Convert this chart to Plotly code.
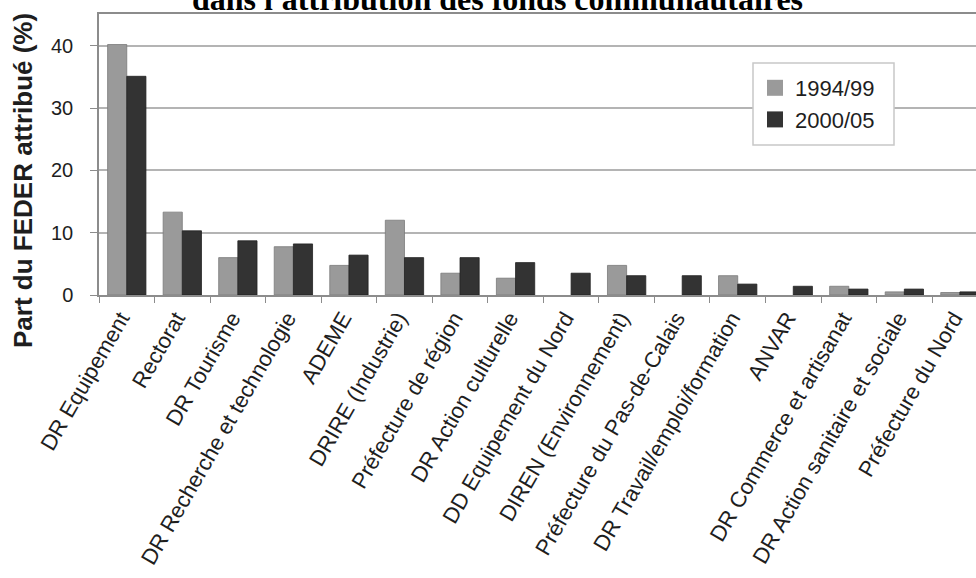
import plotly.graph_objects as go

categories = [
    "DR Equipement", "Rectorat", "DR Tourisme", "DR Recherche et technologie",
    "ADEME", "DRIRE (Industrie)", "Préfecture de région", "DR Action culturelle",
    "DD Equipement du Nord", "DIREN (Environnement)", "Préfecture du Pas-de-Calais",
    "DR Travail/emploi/formation", "ANVAR", "DR Commerce et artisanat",
    "DR Action sanitaire et sociale", "Préfecture du Nord",
]
series_names = ["1994/99", "2000/05"]
values_1994_99 = [40.2, 13.3, 6.0, 7.75, 4.75, 12.0, 3.5, 2.7, None, 4.75, None, 3.1, None, 1.4, 0.5, 0.4]
values_2000_05 = [35.1, 10.3, 8.7, 8.2, 6.4, 6.0, 6.0, 5.2, 3.5, 3.1, 3.1, 1.75, 1.4, 0.95, 0.95, 0.5]
y_ticks = [0, 10, 20, 30, 40]
title_text = "dans l'attribution des fonds communautaires"
y_title = "Part du FEDER attribué (%)"

colors = ["#9a9a9a", "#333333"]
edge = ["#7a7a7a", "#222222"]

fig = go.Figure()
for name, vals, c, e in zip(series_names, [values_1994_99, values_2000_05], colors, edge):
    fig.add_trace(go.Bar(x=categories, y=vals, name=name, marker=dict(color=c, line=dict(color=e, width=0.8)),
                         showlegend=False))
# legend entries
for name, c in zip(series_names, colors):
    fig.add_trace(go.Scatter(x=[None], y=[None], mode="markers", name=name,
                             marker=dict(symbol="square", size=17, color=c)))

W, H = 976, 578
L, R, T, B = 99, 0, 14, 283
pw = W - L - R
ph = H - T - B


def px(xp):
    return (xp - L) / pw


def py(yp):
    return (T + ph - yp) / ph


fig.update_layout(
    width=W, height=H,
    margin=dict(l=L, r=R, t=T, b=B, pad=0),
    paper_bgcolor="white", plot_bgcolor="white",
    barmode="group", bargap=0.31, bargroupgap=0,
    font=dict(family="Liberation Sans, Arial", color="#1e1e1e"),
    legend=dict(
        x=px(755), y=py(67), xanchor="left", yanchor="top",
        bgcolor="rgba(0,0,0,0)", borderwidth=0,
        font=dict(size=22, color="#1e1e1e"),
    ),
    xaxis=dict(
        type="category", range=[-0.5, 15.29],
        showline=True, linecolor="#8c8c8c", linewidth=1.5, mirror=True,
        ticks="outside", tickson="boundaries", ticklen=6, tickcolor="#8c8c8c", tickwidth=1.2,
        tickangle=-60, tickfont=dict(size=22, color="#1e1e1e"),
        ticklabelshift=-6,
        showgrid=False,
    ),
    yaxis=dict(
        range=[0, 45.1], tickvals=y_ticks,
        showgrid=True, gridcolor="#b4b4b4", gridwidth=1.5, zeroline=False,
        showline=True, linecolor="#8c8c8c", linewidth=1.5,
        ticks="outside", ticklen=7, tickcolor="#8c8c8c", tickwidth=1.2,
        tickfont=dict(size=20, color="#1e1e1e"), ticklabelstandoff=13,
    ),
    shapes=[
        dict(type="rect", xref="paper", yref="paper", layer="above",
             x0=px(753), x1=px(894), y0=py(145), y1=py(63),
             fillcolor="white", line=dict(color="#c8c8c8", width=1.5)),
    ],
    annotations=[
        dict(text="<b>" + title_text + "</b>", xref="paper", yref="paper",
             x=px(497), y=py(19), xanchor="center", yanchor="bottom",
             showarrow=False,
             font=dict(family="Liberation Serif, Times New Roman", size=32, color="black"),
             ),
        dict(text="<b>" + y_title + "</b>", xref="paper", yref="paper",
             x=px(23), y=py(181), xanchor="center", yanchor="middle",
             textangle=-90, showarrow=False,
             font=dict(family="Liberation Sans, Arial", size=26, color="#1e1e1e")),
    ],
)

fig.write_html("out.html", config={"displayModeBar": False},
               post_script="document.body.style.margin='0px';document.body.style.padding='0px';")
